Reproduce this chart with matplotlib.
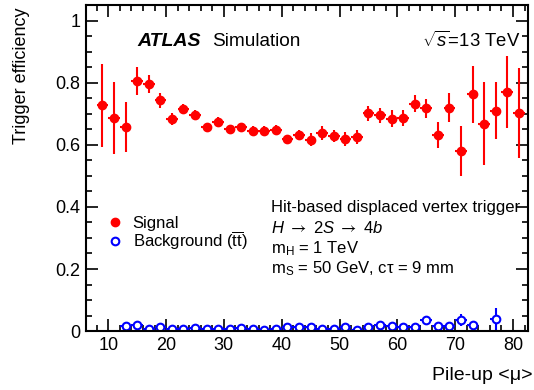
import numpy as np
import matplotlib
matplotlib.use('Agg')
import matplotlib.pyplot as plt
import matplotlib.lines as mlines
from matplotlib.ticker import MultipleLocator

plt.rcParams['font.family'] = ['Liberation Sans', 'DejaVu Sans']
plt.rcParams['mathtext.fontset'] = 'custom'
plt.rcParams['mathtext.rm'] = 'Liberation Sans'
plt.rcParams['mathtext.it'] = 'Liberation Sans:italic'
plt.rcParams['mathtext.bf'] = 'Liberation Sans:bold'
plt.rcParams['mathtext.sf'] = 'STIXGeneral'

# signal efficiency vs pile-up (bin centres, bin width 2)
sig_mu = [9, 11, 13, 15, 17, 19, 21, 23, 25, 27, 29, 31, 33, 35, 37, 39, 41, 43,
          45, 47, 49, 51, 53, 55, 57, 59, 61, 63, 65, 67, 69, 71, 73, 75, 77, 79, 81]
sig_eff = [0.727, 0.686, 0.657, 0.805, 0.795, 0.743, 0.684, 0.715, 0.696, 0.656,
           0.674, 0.652, 0.656, 0.646, 0.646, 0.649, 0.618, 0.633, 0.616, 0.638,
           0.629, 0.618, 0.625, 0.702, 0.695, 0.684, 0.686, 0.732, 0.717, 0.632,
           0.720, 0.581, 0.762, 0.668, 0.710, 0.769, 0.702]
sig_err = [0.133, 0.117, 0.080, 0.046, 0.029, 0.025, 0.020, 0.016, 0.015, 0.015,
           0.015, 0.013, 0.013, 0.013, 0.013, 0.015, 0.015, 0.015, 0.021, 0.021,
           0.020, 0.022, 0.022, 0.024, 0.024, 0.027, 0.027, 0.027, 0.032, 0.042,
           0.047, 0.080, 0.092, 0.134, 0.091, 0.116, 0.145]

# ttbar background efficiency
bkg_mu = [13, 15, 17, 19, 21, 23, 25, 27, 29, 31, 33, 35, 37, 39, 41, 43, 45, 47,
          49, 51, 53, 55, 57, 59, 61, 63, 65, 67, 69, 71, 73, 77]
bkg_eff = [0.017, 0.020, 0.006, 0.013, 0.008, 0.006, 0.010, 0.008, 0.008, 0.008,
           0.010, 0.008, 0.005, 0.006, 0.012, 0.014, 0.014, 0.006, 0.006, 0.014,
           0.005, 0.014, 0.021, 0.018, 0.014, 0.013, 0.035, 0.018, 0.015, 0.035,
           0.021, 0.039]
bkg_err = [0.004, 0.004, 0.003, 0.003, 0.003, 0.003, 0.003, 0.003, 0.003, 0.003,
           0.003, 0.003, 0.003, 0.003, 0.003, 0.003, 0.004, 0.003, 0.003, 0.004,
           0.003, 0.004, 0.005, 0.005, 0.005, 0.005, 0.008, 0.007, 0.007, 0.020,
           0.013, 0.034]

fig = plt.figure(figsize=(5.34, 3.90), dpi=100)
ax = fig.add_axes([0.1605, 0.151, 0.8283, 0.836])

ax.errorbar(sig_mu, sig_eff, xerr=1, yerr=sig_err, fmt='o', color='#ff0000',
            ms=6, elinewidth=1.5, capsize=0)
ax.errorbar(bkg_mu, bkg_eff, xerr=1, yerr=bkg_err, fmt='o', color='#0000ff',
            mfc='white', mec='#0000ff', mew=1.5, ms=5.5, elinewidth=1.5, capsize=0)

ax.set_xlim(6.1, 82.6)
ax.set_ylim(0, 1.05)
ax.xaxis.set_major_locator(MultipleLocator(10))
ax.xaxis.set_minor_locator(MultipleLocator(2))
ax.yaxis.set_minor_locator(MultipleLocator(0.05))
ax.set_yticks([0, 0.2, 0.4, 0.6, 0.8, 1.0])
ax.set_yticklabels(['0', '0.2', '0.4', '0.6', '0.8', '1'])
ax.tick_params(which='both', direction='in', top=True, right=True,
               width=1.2, labelsize=13)
ax.tick_params(which='major', length=8.5, pad=4)
ax.tick_params(which='minor', length=4.3)
for s in ax.spines.values():
    s.set_linewidth(1.5)

ax.set_ylabel('Trigger efficiency', loc='top', fontsize=13, va='center')
ax.yaxis.set_label_coords(-0.145, 0.994)
ax.set_xlabel('Pile-up <μ>', loc='right', fontsize=14, va='center')
ax.xaxis.set_label_coords(1.0095, -0.135)

ax.text(0.1167, 0.874, 'ATLAS', transform=ax.transAxes, fontsize=14,
        fontweight='bold', fontstyle='italic')
ax.text(0.285, 0.874, 'Simulation', transform=ax.transAxes, fontsize=13.7)
ax.text(0.76, 0.873, r'$\sqrt{s}$=13 TeV', transform=ax.transAxes, fontsize=13.3)

lines = ['Hit-based displaced vertex trigger',
         r'$H\ \mathsf{\rightarrow}\ 2S\ \mathsf{\rightarrow}\ 4b$',
         r'm$_\mathrm{H}$ = 1 TeV',
         r'm$_\mathrm{S}$ = 50 GeV, cτ = 9 mm']
ys = [0.365, 0.2997, 0.238, 0.177]
for t, y in zip(lines, ys):
    ax.text(0.419, y, t, transform=ax.transAxes, fontsize=12, va='baseline')

h_sig = mlines.Line2D([], [], color='#ff0000', marker='o', ls='none', ms=6)
h_bkg = mlines.Line2D([], [], color='#0000ff', marker='o', ls='none', ms=5.5,
                      mfc='white', mew=1.5)
ax.legend([h_sig, h_bkg], ['Signal', r'Background ($\overline{\mathrm{tt}}$)'],
          loc='upper left', bbox_to_anchor=(0.051, 0.354), frameon=False,
          fontsize=12, handlelength=0.8, handletextpad=0.66, borderpad=0,
          borderaxespad=0, labelspacing=-0.05)

fig.savefig('out.png', dpi=100)
